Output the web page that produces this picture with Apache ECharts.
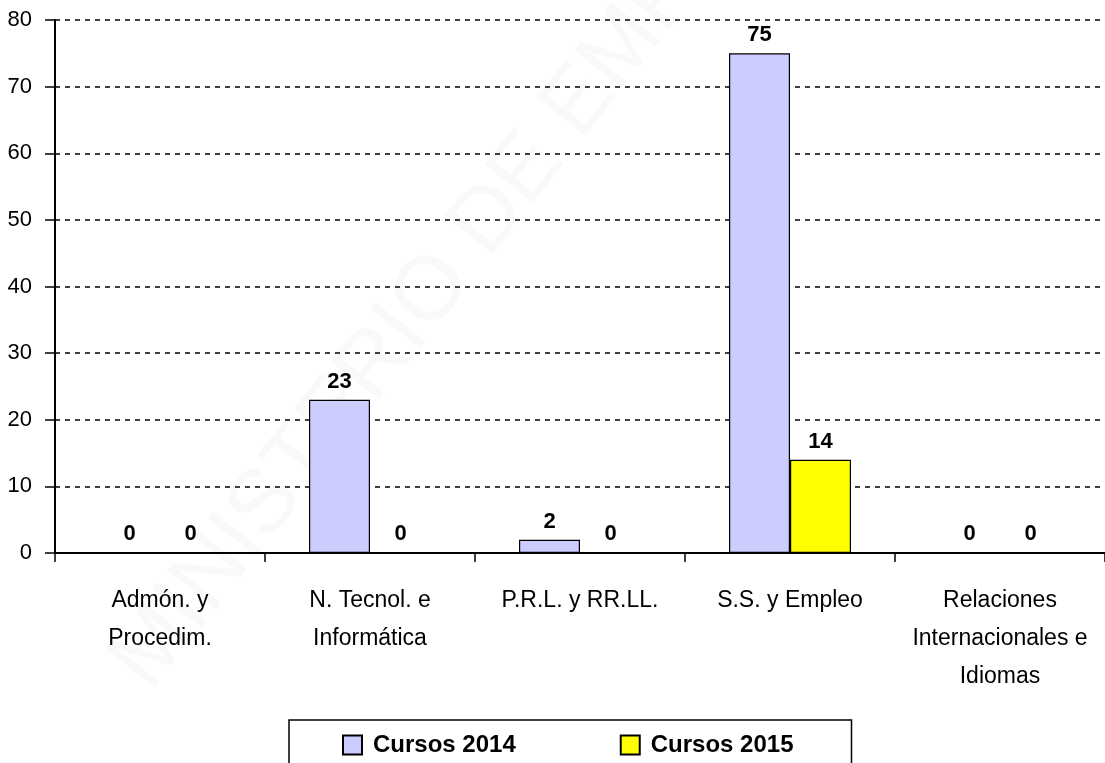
<!DOCTYPE html>
<html>
<head>
<meta charset="utf-8">
<script src="https://cdn.jsdelivr.net/npm/echarts@6/dist/echarts.min.js"></script>
<style>
  html, body { margin: 0; padding: 0; background: #fff; }
  #main { width: 1105px; height: 763px; }
</style>
</head>
<body>
<div id="main"></div>
<script>
// datos del gráfico
var categorias = ['Admón. y\nProcedim.', 'N. Tecnol. e\nInformática', 'P.R.L. y RR.LL.', 'S.S. y Empleo', 'Relaciones\nInternacionales e\nIdiomas'];
var cursos2014 = [0, 23, 2, 75, 0];
var cursos2015 = [0, 0, 0, 14, 0];
var series_nombres = ['Cursos 2014', 'Cursos 2015'];

var myChart = echarts.init(document.getElementById('main'));

var etiqueta = {
    show: true,
    position: 'top',
    distance: 7,
    color: '#000',
    fontFamily: 'Liberation Sans',
    fontWeight: 'bold',
    fontSize: 22
};

var option = {
    animation: false,
    backgroundColor: '#fff',
    grid: {
        left: 55,
        right: 0,
        top: 20,
        bottom: 210
    },
    // marca de agua
    graphic: [{
        type: 'text',
        rotation: Math.PI * 52 / 180,
        x: 95,
        y: 650,
        silent: true,
        z: -10,
        style: {
            text: 'MINISTERIO DE EMPLEO',
            fontFamily: 'Liberation Sans',
            fontSize: 90,
            fill: '#f9f9f9'
        }
    }],
    legend: {
        data: series_nombres,
        left: 289,
        top: 720,
        orient: 'horizontal',
        icon: 'rect',
        itemWidth: 19,
        itemHeight: 19,
        itemGap: 104,
        padding: [13, 58, 40, 53],
        borderColor: '#000',
        borderWidth: 1.5,
        selectedMode: false,
        textStyle: {
            fontFamily: 'Liberation Sans',
            fontWeight: 'bold',
            fontSize: 24,
            color: '#000',
            padding: [0, 0, 0, 6]
        }
    },
    xAxis: {
        type: 'category',
        data: categorias,
        axisLine: { lineStyle: { color: '#000', width: 2 } },
        axisTick: { show: true, length: 9, lineStyle: { color: '#000', width: 1.5 } },
        axisLabel: {
            margin: 29,
            interval: 0,
            color: '#000',
            fontFamily: 'Liberation Sans',
            fontSize: 23,
            lineHeight: 38
        }
    },
    yAxis: {
        type: 'value',
        min: 0,
        max: 80,
        interval: 10,
        axisLine: { show: true, lineStyle: { color: '#000', width: 2 } },
        axisTick: { show: true, length: 10, lineStyle: { color: '#000', width: 1.5 } },
        axisLabel: {
            margin: 23,
            color: '#000',
            fontFamily: 'Liberation Sans',
            fontSize: 22
        },
        splitLine: {
            show: true,
            lineStyle: { color: '#000', width: 1.5, type: [5, 5] }
        }
    },
    series: [{
        name: series_nombres[0],
        type: 'bar',
        data: cursos2014,
        barWidth: 61,
        barGap: '0%',
        itemStyle: { color: '#CCCCFF', borderColor: '#000', borderWidth: 1.2 },
        label: etiqueta
    }, {
        name: series_nombres[1],
        type: 'bar',
        data: cursos2015,
        barWidth: 61,
        barGap: '0%',
        itemStyle: { color: '#FFFF00', borderColor: '#000', borderWidth: 1.2 },
        label: etiqueta
    }]
};

myChart.setOption(option);
</script>
</body>
</html>
